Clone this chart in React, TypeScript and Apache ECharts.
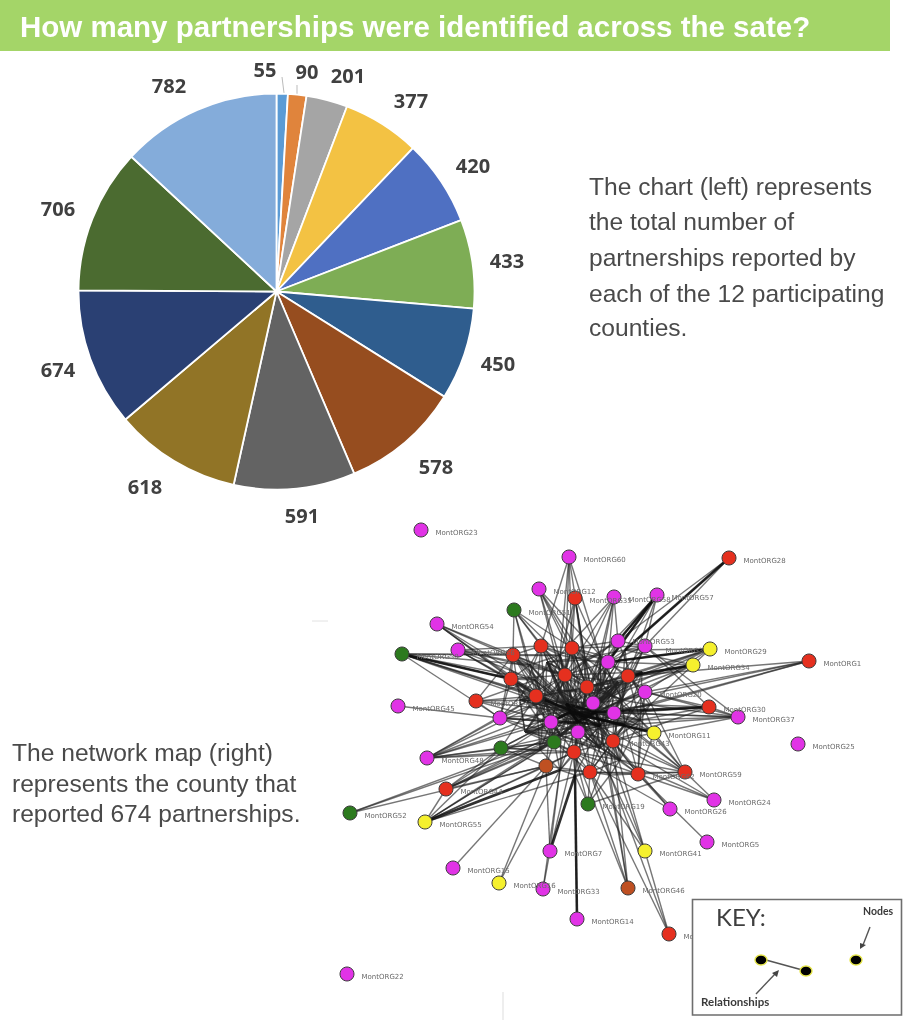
import React, { useEffect, useRef } from "react";
import * as echarts from "echarts";

const headerTitle = "How many partnerships were identified across the sate?";
const sideLines = ["The chart (left) represents", "the total number of", "partnerships reported by", "each of the 12 participating", "counties."];
const sideLineY = [186, 221, 257, 293, 327];
const mapLines = ["The network map (right)", "represents the county that", "reported 674 partnerships."];
const mapLineY = [752, 783, 813];

const pieValues = [55, 90, 201, 377, 420, 433, 450, 578, 591, 618, 674, 706, 782];
const pieColors = ["#5B9BD5", "#E0843C", "#A5A5A5", "#F3C243", "#4F70C2", "#7EAD55", "#2F5D8E", "#964D1F", "#636363", "#917426", "#2A4073", "#4B6B30", "#84ACDA"];
const pieLabelX = [265, 307, 348, 411, 473, 507, 498, 436, 302, 145, 58, 58, 169];
const pieLabelY = [69, 71, 75, 100, 165, 260, 363, 466, 515, 486, 369, 208, 85];

const nodeColors: Record<string, string> = { p: "#E133E6", r: "#E5301F", g: "#2C7A1E", y: "#F5F02E", b: "#BF5022", h: "transparent" };

// id, x, y, colour kind, visible label
const nodes: [string, number, number, string, string][] = [
  ["O23", 421, 530, "p", "MontORG23"], ["O60", 569, 557, "p", "MontORG60"], ["O28", 729, 558, "r", "MontORG28"],
  ["O12", 539, 589, "p", "MontORG12"], ["O35", 575, 598, "r", "MontORG35"], ["O58", 614, 597, "p", "MontORG58"],
  ["O57", 657, 595, "p", "MontORG57"], ["O51", 514, 610, "g", "MontORG51"], ["O54", 437, 624, "p", "MontORG54"],
  ["O50", 402, 654, "g", "MontORG50"], ["O56", 458, 650, "p", "MontORG56"], ["O53", 618, 641, "p", "MontORG53"],
  ["O3", 645, 646, "p", "MontORG3"], ["O29", 710, 649, "y", "MontORG29"], ["O34", 693, 665, "y", "MontORG34"],
  ["O1", 809, 661, "r", "MontORG1"], ["a1", 513, 655, "r", ""], ["a2", 541, 646, "r", ""], ["a3", 572, 648, "r", ""],
  ["a4", 608, 662, "p", ""], ["a5", 628, 676, "r", ""], ["a6", 565, 675, "r", ""], ["a7", 511, 679, "r", ""],
  ["a8", 587, 687, "r", ""], ["a9", 536, 696, "r", ""], ["O20", 645, 692, "p", "MontORG20"], ["b1", 593, 703, "p", ""],
  ["O47", 476, 701, "r", "MontORG47"], ["O45", 398, 706, "p", "MontORG45"], ["O30", 709, 707, "r", "MontORG30"],
  ["O37", 738, 717, "p", "MontORG37"], ["O49", 500, 718, "p", ""], ["b2", 614, 713, "p", ""], ["b3", 551, 722, "p", ""],
  ["b4", 578, 732, "p", ""], ["O11", 654, 733, "y", "MontORG11"], ["O43", 613, 741, "r", "MontORG43"], ["b5", 554, 742, "g", ""],
  ["O25", 798, 744, "p", "MontORG25"], ["O40", 501, 748, "g", ""], ["O48", 427, 758, "p", "MontORG48"], ["b6", 574, 752, "r", ""],
  ["O6", 546, 766, "b", ""], ["O62", 638, 774, "r", "MontORG62"], ["O59", 685, 772, "r", "MontORG59"], ["b7", 590, 772, "r", ""],
  ["O44", 446, 789, "r", "MontORG44"], ["O52", 350, 813, "g", "MontORG52"], ["O55", 425, 822, "y", "MontORG55"],
  ["O19", 588, 804, "g", "MontORG19"], ["O24", 714, 800, "p", "MontORG24"], ["O26", 670, 809, "p", "MontORG26"],
  ["O7", 550, 851, "p", "MontORG7"], ["O41", 645, 851, "y", "MontORG41"], ["O5", 707, 842, "p", "MontORG5"],
  ["O15", 453, 868, "p", "MontORG15"], ["O16", 499, 883, "y", "MontORG16"], ["O33", 543, 889, "p", "MontORG33"],
  ["O46", 628, 888, "b", "MontORG46"], ["O14", 577, 919, "p", "MontORG14"], ["O38", 669, 934, "r", "MontORG38"],
  ["O22", 347, 974, "p", "MontORG22"],
  ["h1", 570, 712, "h", ""], ["h2", 584, 716, "h", ""], ["h3", 596, 712, "h", ""], ["h4", 578, 722, "h", ""],
  ["h5", 566, 704, "h", ""], ["h6", 600, 726, "h", ""], ["h7", 560, 735, "h", ""], ["h8", 600, 690, "h", ""],
  ["h9", 622, 700, "h", ""], ["h10", 535, 680, "h", ""], ["h11", 575, 775, "h", ""], ["h12", 600, 655, "h", ""],
  ["h13", 560, 655, "h", ""], ["h14", 625, 725, "h", ""], ["h15", 545, 700, "h", ""], ["h16", 640, 720, "h", ""],
  ["h17", 620, 760, "h", ""], ["h18", 540, 750, "h", ""], ["h19", 585, 660, "h", ""], ["h20", 625, 650, "h", ""],
  ["h21", 530, 665, "h", ""], ["h22", 650, 705, "h", ""], ["h23", 560, 770, "h", ""], ["h24", 610, 775, "h", ""],
  ["h25", 520, 700, "h", ""], ["h26", 525, 732, "h", ""], ["h27", 618, 682, "h", ""], ["h28", 642, 672, "h", ""],
  ["h29", 600, 748, "h", ""], ["h30", 558, 690, "h", ""], ["h31", 547, 662, "h", ""], ["h32", 610, 694, "h", ""],
];

const offsets: Record<string, [number, number]> = { O53: [0, 1], O3: [6, 5] };

const thinLinks: [string, string][] = [
  ["O60", "a2 a3 h13 h12 a6 h19"], ["O12", "a6 h12 a8 a3 h1 h19"], ["O35", "a3 a6 a8 h12 b1 h19 h13"], ["O58", "h13 a6 a4 b1 h12 O53 h19"],
  ["O57", "O53 a4 O3 h12 a5 h20"], ["O51", "a1 a2 a6 a3 h13 a9 h21"], ["O54", "a7 a9 a1 h5 h21 h15"], ["O50", "a1 a7 a9 h1 h5 O49 h10 h15 h21 h13"],
  ["O56", "a1 a2 a9 a6 h1 h21 h15 h10"], ["O45", "O49"], ["O47", "a1 O49 h1 b3 a9 h15 h10"], ["O48", "O49 b3 O40 b5 b6 a9 h1 h5 h15 h18"],
  ["O44", "O40 b5 O6 b3 h7 h18 h4"], ["O52", "O6 b5 h7"], ["O55", "O44 O6 b5 b6 b7 O40 h18 h7"], ["O15", "O6"], ["O16", "O6 h23"],
  ["O7", "O6 b6 h23"], ["O33", "O7 h23"], ["O14", "h11"], ["O38", "b7 O43 h24"], ["O41", "b7 h24 h6"], ["O46", "b7 b6 O43 h6 h24"],
  ["O19", "b7 b6 h11 O43 h24 O59"], ["O5", "O62"], ["O26", "O62 O43 h24"], ["O24", "O59 O62 O43 h17"], ["O59", "O43 b2 h14 O11 h6 O20 b7 h16 h17 h24"],
  ["O1", "a5 O20 h9 b2 h22"], ["O28", "O3 O53 h20"], ["O29", "a5 a4 O20 h8 b1 a8 h20 h22"], ["O34", "a5 h8 b1 a8 a4 h20 h9"],
  ["O37", "O3 O20 O11 h3 b2 h14 O30 h16 h22"], ["O30", "b2 O20 O43 h2 O3 h16 h22"], ["O11", "O43 b2 h2 h3 O53 h16 h14"], ["O20", "a5 a4 b2 h3 h9 O43 h16"],
  ["O3", "a4 a5 a3 b2 h2 O53 h20 h9"], ["O53", "a3 a4 a6 a8 h8 h19"],
];
const coreLinks: [string, string][] = [
  ["a1", "a2 a6 a7 a8 a9 h1 h5 h10 O49 h15 h21 h13"], ["a2", "a3 a6 a8 a9 h1 h2 h5 h13 h19 h21 h15"], ["a3", "a4 a6 a8 h1 h2 h3 h4 b1 b3 h19 h12 h13"],
  ["a4", "a5 a6 a8 b1 h1 h2 h3 h8 b2 h19 h12 h20"], ["a5", "a8 b1 b2 h2 h3 h9 O43 b4 h16 h20 h22"], ["a6", "a7 a8 a9 b1 b3 h1 h2 h4 b4 h13 h19 h21 h15"],
  ["a7", "a9 b3 h1 h5 O49 b5 h7 h15 h10 h21"], ["a8", "b1 b2 b3 h1 h2 h4 b4 b6 h19 h8 h9"], ["a9", "b3 h1 h5 O49 b5 b4 h4 O40 h15 h18 h10"],
  ["b1", "b2 b3 b4 h1 h2 h6 O43 b6 h8 h9 h14"], ["b2", "b4 h2 h3 h6 O43 b7 h14 h16 h17 h9 h22"], ["b3", "b4 b5 b6 h1 h2 O49 O40 O6 h15 h18 h7"],
  ["b4", "b5 b6 b7 h1 h6 O43 O62 h7 h17 h14"], ["b5", "b6 b7 O6 h1 h4 h7 O40 h18 h23 h15"], ["b6", "b7 O6 O43 h4 h6 O62 h23 h11 h17 h24"], ["b7", "O43 O62 h6 h14 h2 O6 h17 h24 h11 h23"],
  ["O43", "O62 h2 h3 h4 h6 h14 h16 h17 h24 h9"], ["O62", "h6 h14 O20 O11 h16 h17"], ["O40", "h1 h7 b6 O6 h18"], ["O49", "b3 h7 h4 b5 h1 h15 h10"],
  ["h8", "h1 h2 h3 h4 h5 h9 h19 h12 h20"], ["h9", "h2 h3 h6 h14 h4 h16 h20 h22 h12"], ["h10", "h1 h5 h7 h4 h15 h21 h13"], ["h12", "h1 h3 h2 h4 h8 h19 h20 h9"],
  ["h13", "h1 h5 h4 h2 h19 h21 h15"], ["h7", "h1 h2 h4 h6 h15 h18 h23"], ["h14", "h2 h3 h4 h6 h16 h17 h22"], ["h15", "h1 h2 h4 h5 h18 h21"], ["h16", "h2 h3 h6 h17 h22"],
  ["h17", "h4 h6 h24 h1 h7"], ["h18", "h1 h4 h23"], ["h19", "h1 h2 h3 h5"], ["h23", "h4 h1 h6 h11"], ["h24", "h4 h6 h2"], ["h22", "h2 h3"], ["h20", "h3 h8"], ["h21", "h1 h2 h5"],
  ["h11", "h4 h1 h6 h2"],
];
const meshLinks: [string, string][] = [
  ["h25", "h1 h2 h3 h4 h15 h30 h26 a1 a2 a6 a8 b1 h27 b2 h14"], ["h26", "h1 h2 h4 h7 h15 b4 b6 h29 h25 h30 h6 a6 a8"],
  ["h27", "h1 h2 h3 h4 h6 h8 h14 h28 h32 a6 a8 a3 b4 h29 h7"], ["h28", "h1 h2 h3 h6 h14 a6 h32 a8 h19 b1 h16"],
  ["h29", "h1 h2 h3 h4 h7 h14 h17 h32 a8 b3 h30 h15 a9 h16"], ["h30", "h1 h2 h3 h4 h6 h8 h32 h31 h19 a3 h13 b5 b4 h14"],
  ["h31", "h1 h2 h3 h4 h8 h19 h12 h30 h32 a9 a8 h15"], ["h32", "h1 h2 h4 h6 h7 h8 h9 h19 h12 h16 a3 b5 b3"],
];
const heavyLinks: [string, string][] = [
  ["O28", "h20"], ["O57", "a4"], ["O57", "O53"], ["O7", "h11"], ["O14", "h11"], ["O50", "a7"], ["O55", "h23"], ["O29", "a4"],
  ["O34", "a5"], ["O30", "h3"], ["O11", "h2"], ["h1", "h2"], ["h2", "h3"], ["h1", "h4"], ["h3", "h4"], ["h5", "h2"], ["h5", "h3"],
  ["h1", "h3"], ["h4", "h6"], ["h5", "h4"], ["h1", "h6"], ["h3", "h6"], ["h15", "h2"], ["h14", "h1"], ["b3", "h1"], ["b3", "h4"],
];

const keyNodeX = [761, 806, 856];
const keyNodeY = [960, 971, 960];

const FONT = "'Liberation Sans', Arial, sans-serif";

function buildOption() {
  const links: any[] = [];
  [...thinLinks, ...coreLinks, ...meshLinks].forEach(([from, list]) => list.split(" ").forEach((to) => links.push({ source: from, target: to })));
  heavyLinks.forEach(([from, to]) => links.push({ source: from, target: to, lineStyle: { width: 2.6, color: "#0c0c0c", opacity: 0.85 } }));

  const graphData = nodes.map(([name, x, y, kind, label]) => ({
    name,
    value: [x, y],
    symbolSize: kind === "h" ? 1 : 14,
    itemStyle: kind === "h"
      ? { color: "transparent", borderWidth: 0, opacity: 0 }
      : { color: nodeColors[kind], borderColor: "#3a3a3a", borderWidth: 1 },
    label: label
      ? { show: true, position: "right", distance: 7, offset: offsets[name] || [0, 3], formatter: label, fontSize: 7, color: "#6a6a6a", fontFamily: "'DejaVu Sans', sans-serif" }
      : { show: false },
  }));

  const graphic: any[] = [
    { type: "rect", z: 1, shape: { x: 0, y: 0, width: 890, height: 51 }, style: { fill: "#A4D568" } },
    { type: "text", z: 2, x: 20, y: 26, style: { text: headerTitle, fill: "#fff", font: `bold 29.5px ${FONT}`, textVerticalAlign: "middle" } },
    ...sideLines.map((text, i) => ({ type: "text", z: 2, x: 589, y: sideLineY[i], style: { text, fill: "#4a4a4a", font: `24.6px ${FONT}`, textVerticalAlign: "middle" } })),
    ...mapLines.map((text, i) => ({ type: "text", z: 2, x: 12, y: mapLineY[i], style: { text, fill: "#4a4a4a", font: `24.6px ${FONT}`, textVerticalAlign: "middle" } })),
    { type: "polyline", z: 2, shape: { points: [[282, 77], [284, 93]] }, style: { stroke: "#bbb", lineWidth: 1, fill: "none" } },
    { type: "polyline", z: 2, shape: { points: [[297, 85], [297, 94]] }, style: { stroke: "#bbb", lineWidth: 1, fill: "none" } },
    { type: "line", z: 2, shape: { x1: 503, y1: 992, x2: 503, y2: 1020 }, style: { stroke: "#ddd", lineWidth: 1 } },
    { type: "line", z: 2, shape: { x1: 312, y1: 621, x2: 328, y2: 621 }, style: { stroke: "#e2e2e2", lineWidth: 1 } },
    { type: "rect", z: 100, shape: { x: 692.5, y: 899.5, width: 209, height: 115.5 }, style: { fill: "#fff", stroke: "#6e6e6e", lineWidth: 1.6 } },
    { type: "text", z: 101, x: 716, y: 916, style: { text: "KEY:", fill: "#3f3f3f", font: `24px Lato, ${FONT}`, textVerticalAlign: "middle" } },
    { type: "text", z: 101, x: 863, y: 911, style: { text: "Nodes", fill: "#3a3a3a", font: `bold 10.5px Lato, ${FONT}`, textVerticalAlign: "middle" } },
    { type: "text", z: 101, x: 701, y: 1001, style: { text: "Relationships", fill: "#3a3a3a", font: `bold 11.5px Lato, ${FONT}`, textVerticalAlign: "middle" } },
    { type: "line", z: 101, shape: { x1: 766, y1: 960, x2: 806, y2: 971 }, style: { stroke: "#555", lineWidth: 1.6 } },
    ...keyNodeX.map((x, i) => ({ type: "ellipse", z: 102, shape: { cx: x, cy: keyNodeY[i], rx: 6, ry: 5 }, style: { fill: "#000", stroke: "#E6E64A", lineWidth: 1.4 } })),
    { type: "line", z: 101, shape: { x1: 870, y1: 927, x2: 863, y2: 945 }, style: { stroke: "#555", lineWidth: 1.4 } },
    { type: "polygon", z: 101, shape: { points: [[860, 949], [860, 943], [866, 945]] }, style: { fill: "#444" } },
    { type: "line", z: 101, shape: { x1: 756, y1: 994, x2: 775, y2: 974 }, style: { stroke: "#555", lineWidth: 1.4 } },
    { type: "polygon", z: 101, shape: { points: [[779, 970], [772, 973], [777, 977]] }, style: { fill: "#444" } },
  ];

  return {
    animation: false,
    backgroundColor: "#fff",
    grid: { left: 0, right: 0, top: 0, bottom: 0 },
    xAxis: { type: "value", min: 0, max: 917, show: false },
    yAxis: { type: "value", min: 0, max: 1024, inverse: true, show: false },
    graphic,
    series: [
      {
        type: "pie",
        center: [276.5, 291.5],
        radius: [0, 198],
        startAngle: 90,
        clockwise: true,
        silent: true,
        data: pieValues.map((value, i) => ({ name: String(value), value, itemStyle: { color: pieColors[i] } })),
        itemStyle: { borderColor: "#fff", borderWidth: 1.8 },
        label: { show: true, formatter: "{b}", overflow: "none", width: 60, fontFamily: "'Open Sans', sans-serif", fontWeight: "bold", fontSize: 20, color: "#404040" },
        labelLine: { show: false },
        labelLayout: (params: any) => ({ x: pieLabelX[params.dataIndex], y: pieLabelY[params.dataIndex], align: "center", verticalAlign: "middle" }),
      },
      {
        type: "graph",
        coordinateSystem: "cartesian2d",
        layout: "none",
        silent: true,
        roam: false,
        data: graphData,
        links,
        lineStyle: { color: "#222", width: 1.4, opacity: 0.62, curveness: 0 },
      },
    ],
  };
}

export default function App() {
  const ref = useRef<HTMLDivElement>(null);
  useEffect(() => {
    const chart = echarts.init(ref.current!, undefined, { renderer: "svg" });
    chart.setOption(buildOption() as any);
    return () => chart.dispose();
  }, []);
  return <div ref={ref} style={{ position: "absolute", left: 0, top: 0, width: 917, height: 1024, filter: "blur(0.45px)" }} />;
}
